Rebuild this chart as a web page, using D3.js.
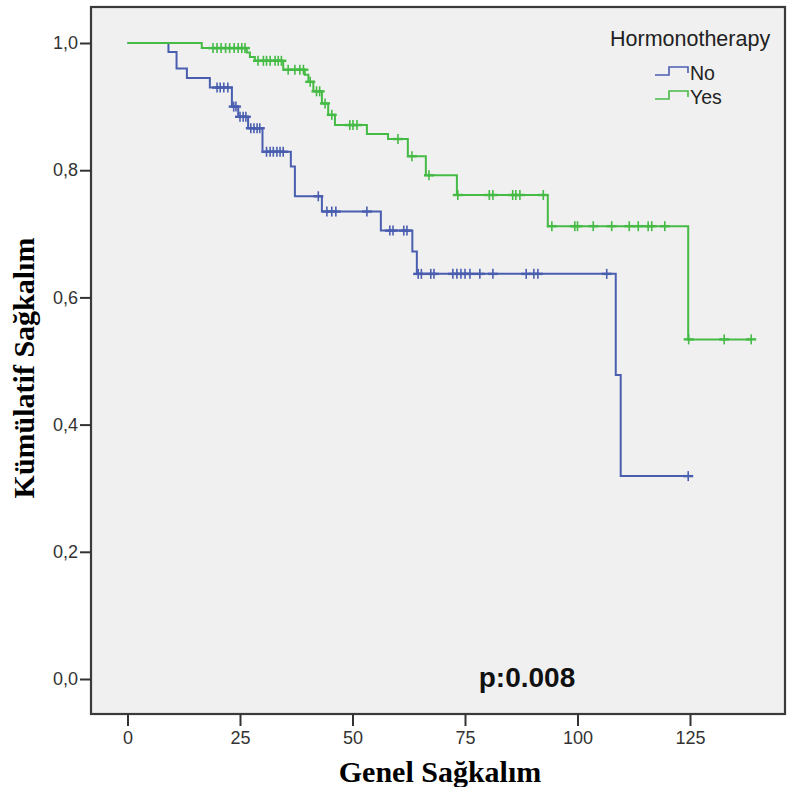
<!DOCTYPE html>
<html>
<head>
<meta charset="utf-8">
<script src="https://cdn.jsdelivr.net/npm/d3@7"></script>
<style>
  body { margin: 0; background: #fff; }
  svg text { font-family: "Liberation Sans", Arial, sans-serif; }
</style>
</head>
<body>
<div id="chart"></div>
<script>
// Hormonotherapy = No : step times and survival after each step
var noStepTimes = [9.1, 10.9, 13.2, 18.3, 23.2, 24.6, 26.8, 30.0, 36.3, 37.2, 43.2, 56.3, 63.3, 64.3, 108.5, 109.6];
var noStepSurv  = [0.986, 0.960, 0.945, 0.930, 0.900, 0.884, 0.866, 0.829, 0.806, 0.759, 0.735, 0.705, 0.672, 0.637, 0.478, 0.319];
var noCensored  = [19.9, 20.6, 21.4, 22.3, 23.6, 24.1, 25.0, 25.7, 26.3, 27.4, 28.1, 28.8, 29.4,
                   30.9, 31.7, 32.4, 33.2, 33.9, 34.6, 42.4, 44.3, 45.4, 46.3, 53.2,
                   58.3, 59.0, 61.4, 62.1, 64.6, 65.3, 67.4, 68.1, 72.3, 73.2, 74.1, 75.0, 76.1,
                   78.3, 81.2, 88.6, 90.3, 91.2, 106.5, 124.6];

// Hormonotherapy = Yes
var yesStepTimes = [16.5, 26.5, 27.2, 28.3, 34.6, 39.4, 40.2, 41.3, 43.2, 44.6, 46.1, 53.2, 57.9, 62.3, 66.3, 73.2, 93.4, 124.6];
var yesStepSurv  = [0.992, 0.985, 0.978, 0.972, 0.958, 0.950, 0.939, 0.924, 0.905, 0.887, 0.871, 0.857, 0.849, 0.822, 0.792, 0.761, 0.712, 0.534];
var yesCensored  = [19.0, 19.9, 20.8, 21.8, 22.7, 23.7, 24.6, 25.4, 26.1,
                    29.0, 30.2, 30.9, 31.7, 32.8, 33.5, 34.2,
                    35.7, 37.2, 38.3, 39.1, 40.6, 42.0, 42.7, 43.9, 45.4,
                    49.4, 50.1, 51.0, 60.1, 63.2, 67.0,
                    73.4, 80.4, 81.2, 85.6, 86.3, 87.2, 92.4,
                    94.3, 99.4, 100.0, 103.5, 107.6, 111.5, 113.5, 115.7, 116.5, 119.4,
                    124.7, 132.6, 138.6];

var groups = ["No", "Yes"];
var groupColors = ["#4a5eb0", "#45bb45"];
var xTicks = [0, 25, 50, 75, 100, 125];
var yTicks = [0, 0.2, 0.4, 0.6, 0.8, 1.0];

var svg = d3.select("#chart").append("svg")
  .attr("width", 787)
  .attr("height", 787);

var frame = { left: 91, top: 7, right: 785, bottom: 714 };

var x = d3.scaleLinear().domain([0, 125]).range([127.5, 690]);
var y = d3.scaleLinear().domain([0, 1]).range([679, 43]);

// plot background + frame
svg.append("rect")
  .attr("x", frame.left)
  .attr("y", frame.top)
  .attr("width", frame.right - frame.left)
  .attr("height", frame.bottom - frame.top)
  .attr("fill", "#f0f0f0")
  .attr("stroke", "#3a3a3a")
  .attr("stroke-width", 2.2);

// axes
var fmtComma = function(d) { return d3.format(".1f")(d).replace(".", ","); };

var yAxis = svg.append("g")
  .attr("transform", "translate(" + frame.left + ",0)")
  .call(d3.axisLeft(y).tickValues(yTicks).tickFormat(fmtComma).tickSize(11).tickPadding(2));

var xAxis = svg.append("g")
  .attr("transform", "translate(0," + frame.bottom + ")")
  .call(d3.axisBottom(x).tickValues(xTicks).tickFormat(d3.format("d")).tickSize(12).tickPadding(5));

[xAxis, yAxis].forEach(function(g) {
  g.select(".domain").remove();
  g.selectAll(".tick line").attr("stroke", "#333").attr("stroke-width", 2);
  g.selectAll(".tick text")
    .attr("fill", "#333")
    .style("font-size", "18px");
});

// survival curves
function stepPoints(times, surv, censored) {
  var pts = [[0, 1]];
  times.forEach(function(t, i) { pts.push([t, surv[i]]); });
  var end = d3.max([d3.max(times), d3.max(censored)]);
  pts.push([end, surv[surv.length - 1]]);
  return pts;
}

function survAt(times, surv, t) {
  var s = 1;
  times.forEach(function(tt, i) { if (tt <= t) s = surv[i]; });
  return s;
}

var line = d3.line()
  .x(function(d) { return x(d[0]); })
  .y(function(d) { return y(d[1]); })
  .curve(d3.curveStepAfter);

var series = [
  { times: noStepTimes, surv: noStepSurv, cens: noCensored, color: groupColors[0] },
  { times: yesStepTimes, surv: yesStepSurv, cens: yesCensored, color: groupColors[1] }
];

series.forEach(function(s) {
  svg.append("path")
    .datum(stepPoints(s.times, s.surv, s.cens))
    .attr("d", line)
    .attr("fill", "none")
    .attr("stroke", s.color)
    .attr("stroke-width", 2);

  var marks = svg.append("g").selectAll("g")
    .data(s.cens)
    .enter()
    .append("g")
    .attr("transform", function(t) {
      return "translate(" + x(t) + "," + y(survAt(s.times, s.surv, t)) + ")";
    });
  marks.append("line")
    .attr("x1", 0).attr("x2", 0).attr("y1", -5).attr("y2", 5)
    .attr("stroke", s.color).attr("stroke-width", 1.6);
  marks.append("line")
    .attr("x1", -5).attr("x2", 5).attr("y1", 0).attr("y2", 0)
    .attr("stroke", s.color).attr("stroke-width", 2.4);
});

// legend
svg.append("text")
  .attr("x", 610)
  .attr("y", 46)
  .attr("fill", "#222")
  .style("font-size", "21.5px")
  .text("Hormonotherapy");

groups.forEach(function(g, i) {
  var yy = 75 + i * 24;
  svg.append("path")
    .attr("d", "M655," + yy + "H669V" + (yy - 8) + "H688V" + (yy - 2))
    .attr("fill", "none")
    .attr("stroke", groupColors[i])
    .attr("stroke-width", 1.6);
  svg.append("text")
    .attr("x", 690)
    .attr("y", yy + 5)
    .attr("fill", "#222")
    .style("font-size", "19.5px")
    .text(g);
});

// p value
svg.append("text")
  .attr("x", 527)
  .attr("y", 687)
  .attr("text-anchor", "middle")
  .style("font-size", "28px")
  .style("font-weight", "bold")
  .attr("fill", "#111")
  .text("p:0.008");

// axis titles
svg.append("text")
  .attr("x", 440)
  .attr("y", 782)
  .attr("text-anchor", "middle")
  .style("font-family", "'Liberation Serif', 'Times New Roman', serif")
  .style("font-size", "30px")
  .style("font-weight", "bold")
  .attr("fill", "#000")
  .text("Genel Sağkalım");

svg.append("text")
  .attr("transform", "translate(34,368) rotate(-90)")
  .attr("text-anchor", "middle")
  .style("font-family", "'Liberation Serif', 'Times New Roman', serif")
  .style("font-size", "30px")
  .style("font-weight", "bold")
  .attr("fill", "#000")
  .text("Kümülatif Sağkalım");
</script>
</body>
</html>
